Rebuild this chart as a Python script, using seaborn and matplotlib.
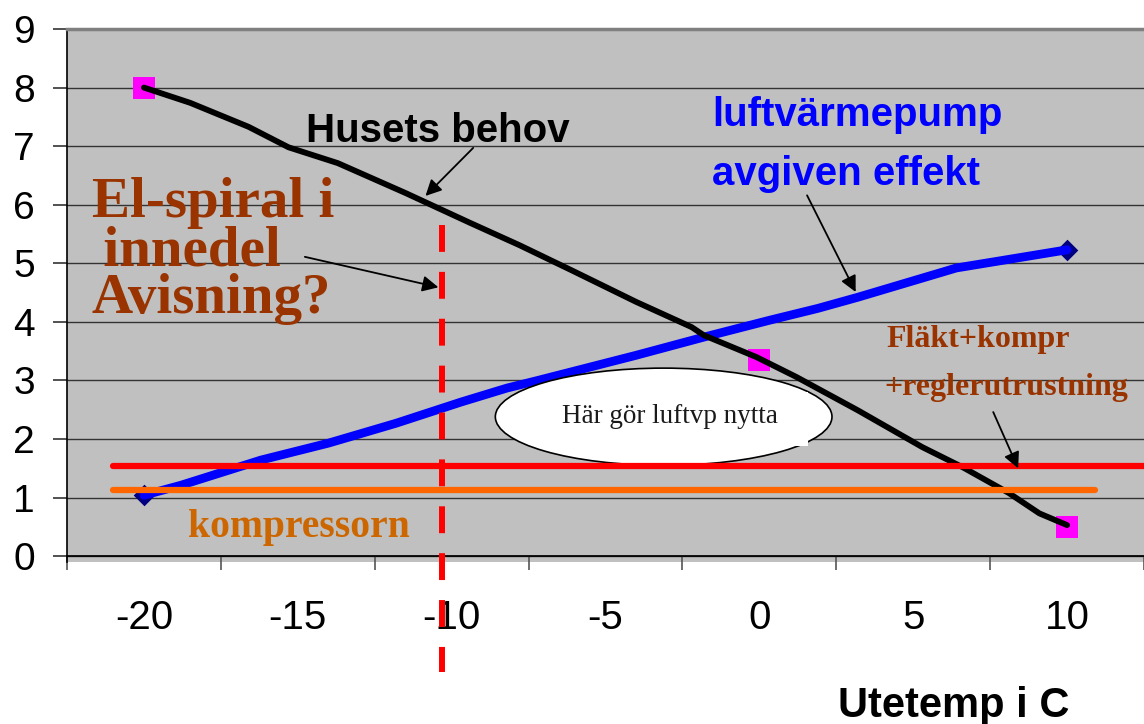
import numpy as np
import matplotlib
matplotlib.use("Agg")
import matplotlib.pyplot as plt
from matplotlib.patches import Ellipse, Rectangle
import seaborn as sns

# Husets behov (svart kurva)
hus_temp = [-20, -18.5, -16.6, -15.3, -13.7, -11.5, -9.4, -7.8, -6.1, -4.0,
            -2.2, -1.8, -0.1, 1.2, 3.2, 5.3, 6.6, 8.1, 9.1, 10.0]
hus_effekt = [8.0, 7.74, 7.33, 6.98, 6.71, 6.20, 5.69, 5.31, 4.88, 4.34,
              3.91, 3.77, 3.40, 3.06, 2.49, 1.86, 1.52, 1.08, 0.73, 0.53]
hus_punkt_temp = [-20, 0, 10]
hus_punkt_effekt = [8.0, 3.35, 0.5]

# Luftvärmepump avgiven effekt (blå kurva)
vp_temp = [-20, -18.8, -16.2, -14.0, -11.8, -9.7, -8.2, -7.2, -4.0, -1.8,
           0.35, 1.9, 3.2, 6.4, 10.0]
vp_effekt = [1.04, 1.21, 1.64, 1.93, 2.27, 2.63, 2.87, 3.0, 3.43, 3.74,
             4.03, 4.23, 4.42, 4.92, 5.23]
vp_punkt_temp = [-20, 10]
vp_punkt_effekt = [1.04, 5.23]

# Fläkt+kompr+reglerutrustning (röd) och kompressorn (orange)
flakt_temp = [-21, 13]
flakt_effekt = [1.54, 1.54]
kompr_temp = [-21, 10.9]
kompr_effekt = [1.13, 1.13]

# El-spiral gräns
elspiral_temp = -10.3

x_etiketter = [-20, -15, -10, -5, 0, 5, 10]
y_etiketter = list(range(0, 10))

BRUN = "#993300"
SANS = ["Liberation Sans", "DejaVu Sans"]
SERIF = ["Liberation Serif", "DejaVu Serif"]

sns.set_theme(style="white")
plt.rcParams["font.family"] = SANS
plt.rcParams["axes.unicode_minus"] = False

fig = plt.figure(figsize=(11.44, 7.24), dpi=100)
ax = fig.add_axes([67 / 1144, (724 - 562) / 724, 1077 / 1144, 533 / 724])
ax.set_facecolor("#C0C0C0")
ax.set_xlim(-22.5, 12.39)
ax.set_ylim(-0.1, 9)

# rutnät
ax.set_yticks(y_etiketter)
ax.grid(axis="y", color="#333333", lw=1.0, zorder=0)
ax.set_axisbelow(True)

# linjer
sns.lineplot(x=flakt_temp, y=flakt_effekt, ax=ax, color="#FF0000", lw=4.5, zorder=6)
sns.lineplot(x=kompr_temp, y=kompr_effekt, ax=ax, color="#FF6600", lw=4.5, zorder=6)
sns.lineplot(x=vp_temp, y=vp_effekt, ax=ax, color="#0000FF", lw=6.3, zorder=3, sort=False)
sns.lineplot(x=hus_temp, y=hus_effekt, ax=ax, color="black", lw=4.2, zorder=4, sort=False)
sns.scatterplot(x=hus_punkt_temp, y=hus_punkt_effekt, ax=ax, marker="s", s=16 ** 2,
                color="#FF00FF", linewidth=0, zorder=3.5)
sns.scatterplot(x=vp_punkt_temp, y=vp_punkt_effekt, ax=ax, marker="D", s=11 ** 2,
                color="#000080", linewidth=0, zorder=2.8)

# streckad gräns för el-spiral
ax.plot([elspiral_temp, elspiral_temp], [5.65, -1.98], color="#FF0000", lw=4.3,
        dashes=(4.5, 3.35), clip_on=False, zorder=10)

# ellips med text
ax.add_patch(Ellipse((-3.11, 2.38), 10.94, 1.66, facecolor="white",
                     edgecolor="black", lw=1.2, zorder=5))
ax.add_patch(Rectangle((-5.25, 1.88), 6.83, 0.92, facecolor="white",
                       edgecolor="none", zorder=5.1))
ax.text(-2.92, 2.27, "Här gör luftvp nytta", ha="center", va="baseline",
        fontsize=19.5, family=SERIF, color="#1a1a1a", zorder=5.2)

# texter
ax.text(-14.74, 7.07, "Husets behov", fontsize=29, fontweight="bold",
        color="black", va="baseline", zorder=7)
ax.text(-1.53, 7.34, "luftvärmepump", fontsize=29, fontweight="bold",
        color="#0000FF", va="baseline", zorder=7)
ax.text(-1.53, 6.34, "avgiven effekt", fontsize=29, fontweight="bold",
        color="#0000FF", va="baseline", zorder=7)
# baseline gäller sista raden
ax.text(-21.69, 4.15, "El-spiral i\n\u2009innedel\nAvisning?", fontsize=41,
        fontweight="bold", family=SERIF, color=BRUN, va="baseline", ha="left",
        linespacing=0.90, zorder=7)
ax.text(4.12, 3.57, "Fläkt+kompr", fontsize=23, fontweight="bold", family=SERIF,
        color=BRUN, va="baseline", zorder=7)
ax.text(4.07, 2.75, "+reglerutrustning", fontsize=23, fontweight="bold",
        family=SERIF, color=BRUN, va="baseline", zorder=7, clip_on=False)
ax.text(-18.58, 0.32, "kompressorn", fontsize=28.5, fontweight="bold",
        family=SERIF, color="#CC6600", va="baseline", zorder=7)

# pilar
pil = dict(arrowstyle="-|>", color="black", lw=1.3, mutation_scale=24,
           shrinkA=0, shrinkB=0)
for svans, spets in [((-9.30, 6.97), (-10.85, 6.15)),
                     ((-14.77, 5.11), (-10.43, 4.59)),
                     ((1.55, 6.16), (3.13, 4.51)),
                     ((7.60, 2.46), (8.41, 1.50))]:
    ax.annotate("", xy=spets, xytext=svans, arrowprops=pil, zorder=8)

# axlar
ax.set_xticks(x_etiketter)
ax.set_xticks(np.arange(-22.5, 13, 5), minor=True)
ax.tick_params(axis="x", which="major", length=0, pad=31, labelsize=29,
               labelcolor="black")
ax.tick_params(axis="x", which="minor", length=10, width=1.2, color="#555555",
               direction="out", bottom=True)
ax.tick_params(axis="y", length=10, width=1.2, color="#333333", direction="out",
               pad=13, labelsize=28, labelcolor="black", left=True)
ax.spines["bottom"].set_position(("data", 0))
ax.spines["bottom"].set_color("black")
ax.spines["left"].set_color("black")
ax.spines["left"].set_linewidth(1.2)
ax.spines["top"].set_color("#808080")
ax.spines["top"].set_linewidth(2.5)
ax.spines["right"].set_visible(False)
ax.set_xlabel("")
ax.set_ylabel("")

fig.text(954 / 1144, 7 / 724, "Utetemp i C", ha="center", va="baseline",
         fontsize=30, fontweight="bold", color="black")

fig.savefig("out.png", dpi=100)
